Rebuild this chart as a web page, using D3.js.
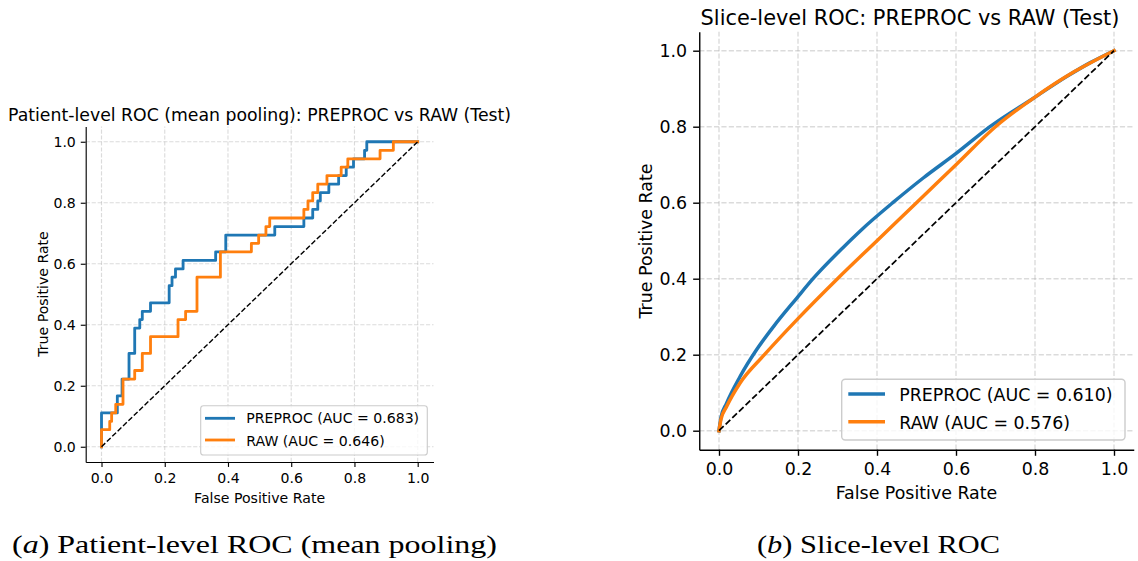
<!DOCTYPE html>
<html><head><meta charset="utf-8">
<script src="https://cdn.jsdelivr.net/npm/d3@7"></script>
<style>body{margin:0;background:#fff} svg{display:block}</style>
</head><body><svg id="c" width="1138" height="561"></svg>
<script>
// ---------------- data ----------------
const tickValues = [0, 0.2, 0.4, 0.6, 0.8, 1.0];
const tickLabels = ["0.0", "0.2", "0.4", "0.6", "0.8", "1.0"];
const seriesNames = ["PREPROC", "RAW"];
const seriesColors = ["#1f77b4", "#ff7f0e"];

const patientAUC = [0.683, 0.646];
const sliceAUC = [0.610, 0.576];

const patientPreprocFPR = [0, 0, 0.050, 0.065, 0.087, 0.105, 0.121, 0.129, 0.155, 0.214, 0.223, 0.234, 0.258, 0.361, 0.393, 0.548, 0.640, 0.668, 0.684, 0.692, 0.719, 0.750, 0.774, 0.797, 0.832, 0.839, 1.0];
const patientPreprocTPR = [0, 0.111, 0.167, 0.222, 0.306, 0.389, 0.417, 0.444, 0.472, 0.528, 0.556, 0.583, 0.611, 0.639, 0.694, 0.722, 0.750, 0.778, 0.806, 0.833, 0.861, 0.889, 0.917, 0.944, 0.972, 1.0, 1.0];
const patientRawFPR = [0, 0, 0.026, 0.032, 0.045, 0.068, 0.105, 0.129, 0.155, 0.242, 0.266, 0.302, 0.376, 0.474, 0.497, 0.520, 0.532, 0.640, 0.653, 0.668, 0.684, 0.713, 0.758, 0.779, 0.881, 0.923, 1.0];
const patientRawTPR = [0, 0.056, 0.083, 0.111, 0.139, 0.222, 0.250, 0.306, 0.361, 0.417, 0.444, 0.556, 0.639, 0.667, 0.694, 0.722, 0.750, 0.778, 0.806, 0.833, 0.861, 0.889, 0.917, 0.944, 0.972, 1.0, 1.0];

const slicePreprocFPR = [0, 0.005, 0.019, 0.053, 0.095, 0.138, 0.197, 0.238, 0.315, 0.361, 0.440, 0.517, 0.602, 0.686, 0.796, 0.880, 0.939, 1.0];
const slicePreprocTPR = [0, 0.035, 0.072, 0.142, 0.213, 0.274, 0.349, 0.400, 0.483, 0.529, 0.600, 0.665, 0.731, 0.800, 0.875, 0.932, 0.968, 1.0];
const sliceRawFPR = [0, 0.005, 0.019, 0.053, 0.115, 0.200, 0.300, 0.400, 0.500, 0.600, 0.700, 0.800, 0.900, 1.0];
const sliceRawTPR = [0, 0.030, 0.063, 0.125, 0.200, 0.295, 0.400, 0.500, 0.600, 0.700, 0.800, 0.878, 0.945, 1.0];

const diagonal = [0, 1];

const titles = ["Patient-level ROC (mean pooling): PREPROC vs RAW (Test)", "Slice-level ROC: PREPROC vs RAW (Test)"];
const xLabel = "False Positive Rate";
const yLabel = "True Positive Rate";
const captions = [["a", " Patient-level ROC (mean pooling)"], ["b", " Slice-level ROC"]];

// ---------------- drawing ----------------
const SANS = "'DejaVu Sans', sans-serif";
const svg = d3.select("#c");
svg.append("rect").attr("width", 1138).attr("height", 561).attr("fill", "#fff");

function zipPts(fx, ty) { return fx.map((v, i) => [v, ty[i]]); }

function drawPanel(cfg) {
  const g = svg.append("g").style("font-family", SANS);
  const s = cfg.s;
  const x = d3.scaleLinear().domain([-0.05, 1.05]).range(cfg.xr);
  const y = d3.scaleLinear().domain([-0.05, 1.05]).range(cfg.yr);
  const gridDash = `${(2.96 * s).toFixed(2)},${(1.28 * s).toFixed(2)}`;

  // grid
  const grid = g.append("g").attr("stroke", "#b0b0b0").attr("stroke-opacity", 0.45)
    .attr("stroke-width", 0.8 * s).attr("stroke-dasharray", gridDash);
  grid.selectAll(".gx").data(tickValues).join("line")
    .attr("x1", d => x(d)).attr("x2", d => x(d)).attr("y1", cfg.yr[0]).attr("y2", cfg.yr[1]);
  grid.selectAll(".gy").data(tickValues).join("line")
    .attr("y1", d => y(d)).attr("y2", d => y(d)).attr("x1", cfg.xr[0]).attr("x2", cfg.xr[1]);

  // curves
  const line = d3.line().x(d => x(d[0])).y(d => y(d[1])).curve(cfg.curve);
  cfg.series.forEach((pts, i) => {
    g.append("path").datum(pts).attr("d", line).attr("fill", "none")
      .attr("stroke", seriesColors[i]).attr("stroke-width", 2 * s)
      .attr("stroke-linejoin", "round").attr("stroke-linecap", "square");
  });
  // diagonal
  g.append("path").datum(zipPts(diagonal, diagonal))
    .attr("d", d3.line().x(d => x(d[0])).y(d => y(d[1])))
    .attr("fill", "none").attr("stroke", "#000").attr("stroke-width", 1 * s)
    .attr("stroke-dasharray", `${(3.7 * s).toFixed(2)},${(1.6 * s).toFixed(2)}`);

  // axes
  const tk = 3.5 * s;
  const xa = d3.axisBottom(x).tickValues(tickValues).tickFormat((d, i) => tickLabels[i])
    .tickSize(tk).tickSizeOuter(0);
  const gx = g.append("g").attr("transform", `translate(0,${cfg.yr[0]})`).call(xa);
  const ya = d3.axisLeft(y).tickValues(tickValues).tickFormat((d, i) => tickLabels[i])
    .tickSize(tk).tickSizeOuter(0);
  const gy = g.append("g").attr("transform", `translate(${cfg.xr[0]},0)`).call(ya);
  [gx, gy].forEach(a => {
    a.attr("font-family", null).attr("font-size", cfg.fs);
    a.select(".domain").attr("stroke", "#000").attr("stroke-width", 0.8 * s);
    a.selectAll(".tick line").attr("stroke", "#000").attr("stroke-width", 0.8 * s);
    a.selectAll(".tick text").attr("fill", "#000");
  });
  gx.selectAll(".tick text").attr("y", cfg.xTickBase).attr("dy", 0);
  gy.selectAll(".tick text").attr("x", -2 * tk).attr("dy", "0.36em");

  // labels
  g.append("text").attr("x", (cfg.xr[0] + cfg.xr[1]) / 2).attr("y", cfg.xLabelBase)
    .attr("text-anchor", "middle").attr("font-size", cfg.fs).text(xLabel);
  g.append("text").attr("transform", `translate(${cfg.yLabelX},${cfg.yLabelY}) rotate(-90)`)
    .attr("text-anchor", "middle").attr("font-size", cfg.fs).text(yLabel);
  g.append("text").attr("x", cfg.titleX).attr("y", cfg.titleBase)
    .attr("text-anchor", "middle").attr("font-size", cfg.tfs).text(cfg.title);

  // legend
  const L = cfg.legend;
  g.append("rect").attr("x", L.x0).attr("y", L.y0).attr("width", L.x1 - L.x0).attr("height", L.y1 - L.y0)
    .attr("rx", 0.2 * cfg.fs).attr("fill", "#fff").attr("fill-opacity", 0.8)
    .attr("stroke", "#cccccc").attr("stroke-width", 0.8 * s);
  seriesNames.forEach((n, i) => {
    g.append("line").attr("x1", L.lx0).attr("x2", L.lx1).attr("y1", L.rows[i]).attr("y2", L.rows[i])
      .attr("stroke", seriesColors[i]).attr("stroke-width", 2 * s);
    g.append("text").attr("x", L.tx).attr("y", L.bases[i]).attr("font-size", cfg.fs)
      .text(`${n} (AUC = ${cfg.auc[i].toFixed(3)})`);
  });
}

drawPanel({
  s: 1.41, fs: 14.1, tfs: 17.3,
  xr: [85.7, 433.5], yr: [462, 126.5],
  xTickBase: 21.3, xLabelBase: 502.7, yLabelX: 47.5, yLabelY: 294,
  titleX: 259.6, titleBase: 121, title: titles[0],
  curve: d3.curveStepAfter,
  series: [zipPts(patientPreprocFPR, patientPreprocTPR), zipPts(patientRawFPR, patientRawTPR)],
  auc: patientAUC,
  legend: { x0: 200.7, x1: 427.3, y0: 405.7, y1: 455, lx0: 205, lx1: 235, rows: [418.3, 440], tx: 246.3, bases: [423.3, 445.7] }
});
drawPanel({
  s: 1.74, fs: 17.4, tfs: 20.9,
  xr: [699.25, 1133.75], yr: [449.7, 31.7],
  xTickBase: 25.3, xLabelBase: 499.3, yLabelX: 651.5, yLabelY: 241,
  titleX: 910, titleBase: 24.5, title: titles[1],
  curve: d3.curveMonotoneX,
  series: [zipPts(slicePreprocFPR, slicePreprocTPR), zipPts(sliceRawFPR, sliceRawTPR)],
  auc: sliceAUC,
  legend: { x0: 841.7, x1: 1125, y0: 379.3, y1: 440, lx0: 848.3, lx1: 885, rows: [394, 421.7], tx: 899.3, bases: [401, 429] }
});

// captions
const capCfg = [{ x: 12, w: 485 }, { x: 757, w: 243 }];
captions.forEach((c, i) => {
  const t = svg.append("text").attr("x", capCfg[i].x).attr("y", 553)
    .style("font-family", "'Liberation Serif', serif").style("font-size", "25px").attr("fill", "#000")
    .attr("textLength", capCfg[i].w).attr("lengthAdjust", "spacingAndGlyphs");
  t.append("tspan").text("(");
  t.append("tspan").style("font-style", "italic").text(c[0]);
  t.append("tspan").text(")" + c[1]);
});
</script></body></html>
